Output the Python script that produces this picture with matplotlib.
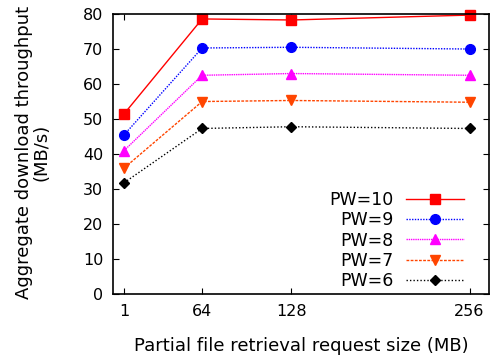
import matplotlib
matplotlib.use("Agg")
import matplotlib.pyplot as plt

plt.rcParams['font.family'] = ['DejaVu Sans']

x_pos = [8, 64, 128, 256]
x_labels = ["1", "64", "128", "256"]
series_names = ["PW=10", "PW=9", "PW=8", "PW=7", "PW=6"]
pw10 = [51.5, 78.6, 78.3, 79.7]
pw9 = [45.5, 70.3, 70.5, 70.0]
pw8 = [41.0, 62.5, 63.0, 62.5]
pw7 = [36.0, 55.0, 55.3, 54.8]
pw6 = [31.8, 47.3, 47.8, 47.3]
values = [pw10, pw9, pw8, pw7, pw6]

colors = ["#ff0000", "#0000ff", "#ff00ff", "#ff4500", "#000000"]
markers = ["s", "o", "^", "v", "D"]
msizes = [7, 7, 7, 7, 5]
styles = ["-", (0, (1, 1)), (0, (1, 0.6)), (0, (2, 1)), (0, (1, 1.5))]

fig = plt.figure(figsize=(4.9, 3.6), dpi=100)
ax = fig.add_axes([0.2306, 0.1833, 0.7674, 0.7777])
for name, v, c, m, ms, ls in zip(series_names, values, colors, markers, msizes, styles):
    ax.plot(x_pos, v, color=c, marker=m, markersize=ms, linestyle=ls, linewidth=1,
            label=name, clip_on=False)

ax.set_xlim(0, 270)
ax.set_ylim(0, 80)
ax.set_xticks(x_pos)
ax.set_xticklabels(x_labels)
ax.set_yticks(range(0, 81, 10))
ax.tick_params(direction='in', top=True, right=True, labelsize=11.5, length=4, width=0.8, pad=7)
for s in ax.spines.values():
    s.set_linewidth(1.2)
ax.set_xlabel("Partial file retrieval request size (MB)", fontsize=13, labelpad=13)
ax.set_ylabel("Aggregate download throughput\n(MB/s)", fontsize=13, linespacing=1.0)
ax.yaxis.set_label_coords(-0.165, 0.505)
leg = ax.legend(loc='lower right', frameon=False, fontsize=12.5, markerfirst=False,
                handlelength=3.3, labelspacing=0.12, borderaxespad=0.3, handletextpad=0.75,
                bbox_to_anchor=(0.965, -0.028))
for t in leg.get_texts():
    t.set_ha('right')
fig.savefig("out.png", dpi=100)
